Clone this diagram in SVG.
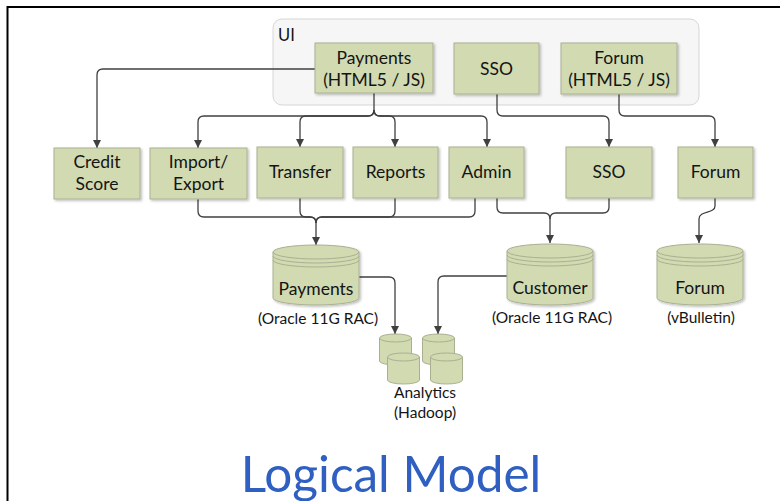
<svg xmlns="http://www.w3.org/2000/svg" width="780" height="501" viewBox="0 0 780 501">
  <defs>
    <marker id="arrow" markerWidth="9" markerHeight="8" refX="8" refY="4" orient="auto" markerUnits="userSpaceOnUse">
      <path d="M0,0 L8,4 L0,8 z" fill="#404040"/>
    </marker>
    <filter id="shadow" x="-10%" y="-10%" width="130%" height="130%">
      <feDropShadow dx="1.5" dy="1.5" stdDeviation="1" flood-color="#000" flood-opacity="0.25"/>
    </filter>
  </defs>
  <style>
    .box { fill: #d1dab1; stroke: #a9b092; stroke-width: 1; filter: url(#shadow); }
    .db { fill: #d1dab1; stroke: #a9b092; stroke-width: 1; }
    .dbline { fill: none; stroke: #a9b092; stroke-width: 1; }
    .lbl { font-family: Lato, "Liberation Sans", sans-serif; font-size: 17.5px; fill: #141414; text-anchor: middle; }
    .sub { font-family: Lato, "Liberation Sans", sans-serif; font-size: 15.5px; fill: #141414; text-anchor: middle; }
    .conn { fill: none; stroke: #404040; stroke-width: 1.3; }
    .title { font-family: Lato, "Liberation Sans", sans-serif; font-size: 49.5px; fill: #2f5fc0; text-anchor: middle; }
  </style>

  <rect x="0" y="0" width="780" height="501" fill="#ffffff"/>
  <!-- slide frame -->
  <rect x="7.5" y="7" width="800" height="600" fill="none" stroke="#000" stroke-width="2"/>

  <!-- UI container -->
  <g id="ui">
    <rect x="273" y="19" width="426" height="86" rx="9" fill="#f6f6f6" stroke="#d6d6d6" stroke-width="1"/>
    <text x="278" y="41" font-family="Lato, 'Liberation Sans', sans-serif" font-size="16.5" fill="#141414">UI</text>
  </g>

  <!-- connectors -->
  <g id="connectors">
    <path class="conn" d="M315,69 H103 Q97,69 97,75 V148" marker-end="url(#arrow)"/>
    <path class="conn" d="M374,93 V110 Q374,116 368,116 H204 Q198,116 198,122 V148" marker-end="url(#arrow)"/>
    <path class="conn" d="M374,110 Q374,116 368,116 H306 Q300,116 300,122 V147" marker-end="url(#arrow)"/>
    <path class="conn" d="M374,110 Q374,116 380,116 H389 Q395,116 395,122 V147" marker-end="url(#arrow)"/>
    <path class="conn" d="M374,110 Q374,116 380,116 H481 Q487,116 487,122 V147" marker-end="url(#arrow)"/>
    <path class="conn" d="M497,94 V110 Q497,116 503,116 H603 Q609,116 609,122 V147" marker-end="url(#arrow)"/>
    <path class="conn" d="M619,94 V110 Q619,116 625,116 H709 Q715,116 715,122 V147" marker-end="url(#arrow)"/>

    <path class="conn" d="M198,199 V211 Q198,217 204,217 H310 Q316,217 316,223 V245" marker-end="url(#arrow)"/>
    <path class="conn" d="M300,198 V211 Q300,217 306,217 H310 Q316,217 316,223"/>
    <path class="conn" d="M395,198 V211 Q395,217 389,217 H322 Q316,217 316,223"/>
    <path class="conn" d="M475,198 V211 Q475,217 469,217 H322 Q316,217 316,223"/>

    <path class="conn" d="M497,198 V207 Q497,213 503,213 H544 Q550,213 550,219 V243" marker-end="url(#arrow)"/>
    <path class="conn" d="M609,198 V207 Q609,213 603,213 H556 Q550,213 550,219"/>

    <path class="conn" d="M715,198 V206 C715,214 699,210 699,219 V243" marker-end="url(#arrow)"/>

    <path class="conn" d="M358,277 H389 Q395,277 395,283 V334" marker-end="url(#arrow)"/>
    <path class="conn" d="M507,276 H444 Q438,276 438,282 V334" marker-end="url(#arrow)"/>
  </g>

  <!-- UI tier -->
  <g id="payments-ui">
    <rect class="box" x="315" y="43" width="118" height="50"/>
    <text class="lbl" x="374" y="64">Payments</text>
    <text class="lbl" x="374" y="86">(HTML5 / JS)</text>
  </g>
  <g id="sso-ui">
    <rect class="box" x="454" y="43" width="85" height="51"/>
    <text class="lbl" x="496.5" y="75">SSO</text>
  </g>
  <g id="forum-ui">
    <rect class="box" x="561" y="43" width="116" height="51"/>
    <text class="lbl" x="619" y="64">Forum</text>
    <text class="lbl" x="619" y="86">(HTML5 / JS)</text>
  </g>

  <!-- service tier -->
  <g id="credit-score">
    <rect class="box" x="54" y="148" width="86" height="51"/>
    <text class="lbl" x="97" y="168">Credit</text>
    <text class="lbl" x="97" y="190">Score</text>
  </g>
  <g id="import-export">
    <rect class="box" x="150" y="148" width="97" height="51"/>
    <text class="lbl" x="198.5" y="168">Import/</text>
    <text class="lbl" x="198.5" y="190">Export</text>
  </g>
  <g id="transfer">
    <rect class="box" x="257" y="147" width="86" height="51"/>
    <text class="lbl" x="300" y="178">Transfer</text>
  </g>
  <g id="reports">
    <rect class="box" x="353" y="147" width="85" height="51"/>
    <text class="lbl" x="395.5" y="178">Reports</text>
  </g>
  <g id="admin">
    <rect class="box" x="449" y="147" width="75" height="51"/>
    <text class="lbl" x="486.5" y="178">Admin</text>
  </g>
  <g id="sso">
    <rect class="box" x="566" y="147" width="86" height="51"/>
    <text class="lbl" x="609" y="178">SSO</text>
  </g>
  <g id="forum">
    <rect class="box" x="678" y="147" width="75" height="51"/>
    <text class="lbl" x="715.5" y="178">Forum</text>
  </g>

  <!-- databases -->
  <g id="payments-db">
    <path class="db" d="M273,252 A43,7 0 0 1 359,252 V298 A43,7 0 0 1 273,298 Z" filter="url(#shadow)"/>
    <path class="dbline" d="M273,252 A43,7 0 0 0 359,252 M273,256 A43,7 0 0 0 359,256 M273,260 A43,7 0 0 0 359,260"/>
    <text class="lbl" x="316" y="295">Payments</text>
    <text class="sub" x="318" y="324">(Oracle 11G RAC)</text>
  </g>
  <g id="customer-db">
    <path class="db" d="M507,251 A43,7 0 0 1 593,251 V298 A43,7 0 0 1 507,298 Z" filter="url(#shadow)"/>
    <path class="dbline" d="M507,251 A43,7 0 0 0 593,251 M507,255 A43,7 0 0 0 593,255 M507,259 A43,7 0 0 0 593,259"/>
    <text class="lbl" x="550" y="294">Customer</text>
    <text class="sub" x="552" y="323">(Oracle 11G RAC)</text>
  </g>
  <g id="forum-db">
    <path class="db" d="M657,251 A43,7 0 0 1 743,251 V298 A43,7 0 0 1 657,298 Z" filter="url(#shadow)"/>
    <path class="dbline" d="M657,251 A43,7 0 0 0 743,251 M657,255 A43,7 0 0 0 743,255 M657,259 A43,7 0 0 0 743,259"/>
    <text class="lbl" x="700" y="294">Forum</text>
    <text class="sub" x="701" y="323">(vBulletin)</text>
  </g>

  <!-- analytics cluster -->
  <g id="analytics">
    <path class="db" d="M379.5,338 A16,4 0 0 1 411.5,338 V361 A16,4 0 0 1 379.5,361 Z"/>
    <path class="dbline" d="M379.5,338 A16,4 0 0 0 411.5,338"/>
    <path class="db" d="M422.5,338 A16,4 0 0 1 454.5,338 V361 A16,4 0 0 1 422.5,361 Z"/>
    <path class="dbline" d="M422.5,338 A16,4 0 0 0 454.5,338"/>
    <path class="db" d="M387.5,357 A16,4 0 0 1 419.5,357 V380 A16,4 0 0 1 387.5,380 Z"/>
    <path class="dbline" d="M387.5,357 A16,4 0 0 0 419.5,357"/>
    <path class="db" d="M430.5,357 A16,4 0 0 1 462.5,357 V380 A16,4 0 0 1 430.5,380 Z"/>
    <path class="dbline" d="M430.5,357 A16,4 0 0 0 462.5,357"/>
    <text class="sub" x="425" y="398">Analytics</text>
    <text class="sub" x="425" y="418">(Hadoop)</text>
  </g>

  <text class="title" x="391" y="492">Logical Model</text>
</svg>
